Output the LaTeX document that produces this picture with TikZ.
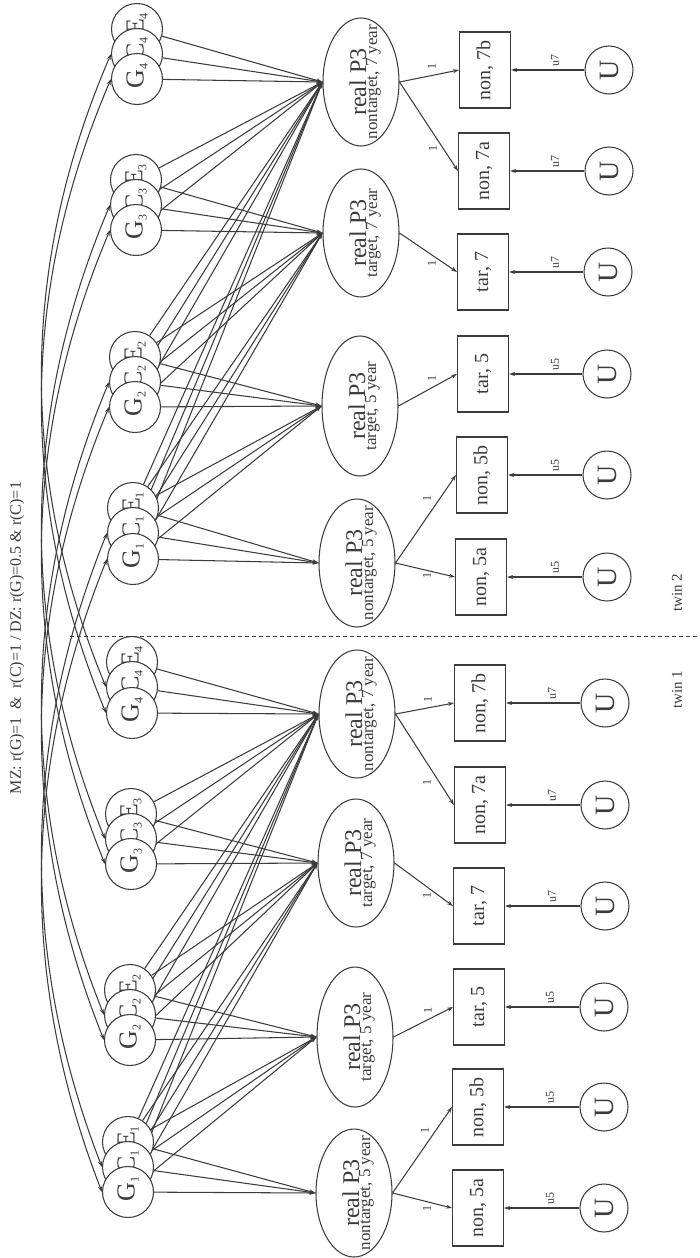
\documentclass[tikz,border=0pt]{standalone}
\usepackage{fontspec}
\setmainfont{Liberation Serif}
\usetikzlibrary{shapes.geometric, arrows.meta, calc}
\pgfdeclarelayer{back}
\pgfdeclarelayer{wires}
\pgfsetlayers{back,wires,main}
\definecolor{ink}{HTML}{3C3C3C}
\tikzset{
  wire/.style={draw=ink, line width=1.05pt},
  tipend/.style={-{Stealth[length=6pt,width=4pt]}},
  tipboth/.style={{Stealth[length=6pt,width=4pt]}-{Stealth[length=6pt,width=4pt]}},
  factor/.style={circle, draw=ink, line width=1.05pt, fill=white, minimum size=51pt,
    inner sep=0pt},
  facltr/.style={rotate=90, inner sep=0pt, text=ink, font=\fontsize{26}{26}\selectfont},
  measure/.style={ellipse, draw=ink, line width=1.05pt, fill=white, minimum width=128pt,
    minimum height=76pt, inner sep=0pt, rotate=90},
  longer/.style={minimum width=140pt},
  headtxt/.style={rotate=90, anchor=base, inner sep=0pt, text=ink, font=\fontsize{24}{24}\selectfont},
  subtxt/.style={rotate=90, anchor=base, inner sep=0pt, text=ink, font=\fontsize{17}{17}\selectfont},
  scorebox/.style={rectangle, draw=ink, line width=1.05pt, fill=white, minimum width=76pt,
    minimum height=51pt, inner sep=0pt, rotate=90, text=ink, font=\fontsize{20}{20}\selectfont},
  uniq/.style={circle, draw=ink, line width=1.05pt, fill=white, minimum size=48pt,
    inner sep=0pt, rotate=90, text=ink, font=\fontsize{28}{28}\selectfont},
  edgelab/.style={rotate=90, inner sep=0pt, text=ink, font=\fontsize{12}{12}\selectfont},
  sidelab/.style={rotate=90, inner sep=0pt, text=ink, font=\fontsize{15}{15}\selectfont},
}
% one latent factor: circle, then its letter with a lowered index,
% set a little towards the top of the circle
\newcommand{\latent}[6]{%
  \node[factor] (#1) at (#2,#3) {};
  \node[facltr] (#1t) at ($(#1)+(0,#6)$)
    {#4\raisebox{-4pt}{\fontsize{12}{12}\selectfont #5}};}
% one P3 measure: ellipse with two lines of text
\newcommand{\pthree}[5]{%
  \node[measure,#4] (#1) at (#2,#3) {};
  \node[headtxt] (#1h) at ($(#1)+(5,0)$) {real P3};
  \node[subtxt]  (#1s) at ($(#1)+(16,0)$) {#5};}
\begin{document}
\begin{tikzpicture}[x=1pt,y=-1pt]
\useasboundingbox (0,0) rectangle (699,1258);
\begin{pgfonlayer}{back}
  \fill[white] (0,0) rectangle (699,1258);
\end{pgfonlayer}

% heading
\node[rotate=90, text=ink, font=\fontsize{16}{16}\selectfont] (title) at (17,638)
  {MZ: r(G)=1\ \ \&\ \ r(C)=1 / DZ: r(G)=0.5 \& r(C)=1};

% ---------- twin 2 : latent factors (E behind C behind G) ----------
\latent{Eb4}{137}{29}{E}{4}{-5}
\latent{Cb4}{137}{54}{C}{4}{-5}
\latent{Gb4}{137}{79}{G}{4}{-3}
\latent{Eb3}{136}{180}{E}{3}{-5}
\latent{Cb3}{136}{205}{C}{3}{-5}
\latent{Gb3}{136}{230}{G}{3}{-3}
\latent{Eb2}{135}{357}{E}{2}{-5}
\latent{Cb2}{135}{382}{C}{2}{-5}
\latent{Gb2}{135}{407}{G}{2}{-3}
\latent{Eb1}{133}{508}{E}{1}{-5}
\latent{Cb1}{133}{533}{C}{1}{-5}
\latent{Gb1}{133}{559}{G}{1}{-3}

% ---------- twin 1 : latent factors ----------
\latent{Ea4}{132}{662}{E}{4}{-5}
\latent{Ca4}{132}{687}{C}{4}{-5}
\latent{Ga4}{132}{713}{G}{4}{-3}
\latent{Ea3}{131}{814}{E}{3}{-5}
\latent{Ca3}{131}{839}{C}{3}{-5}
\latent{Ga3}{131}{864}{G}{3}{-3}
\latent{Ea2}{130}{990}{E}{2}{-5}
\latent{Ca2}{130}{1015}{C}{2}{-5}
\latent{Ga2}{130}{1040}{G}{2}{-3}
\latent{Ea1}{128}{1142}{E}{1}{-5}
\latent{Ca1}{128}{1167}{C}{1}{-5}
\latent{Ga1}{128}{1192}{G}{1}{-3}

% ---------- P3 measures ----------
\pthree{Pb4}{361}{82}{}{nontarget, 7 year}
\pthree{Pb3}{361}{233}{}{target, 7 year}
\pthree{Pb2}{360}{406}{longer}{target, 5 year}
\pthree{Pb1}{357}{563}{}{nontarget, 5 year}
\pthree{Pa4}{357}{714}{}{nontarget, 7 year}
\pthree{Pa3}{356}{863}{}{target, 7 year}
\pthree{Pa2}{355}{1037}{longer}{target, 5 year}
\pthree{Pa1}{354}{1193}{}{nontarget, 5 year}

% ---------- observed scores ----------
\node[scorebox] (Mb7b) at (485,70)  {non, 7b};
\node[scorebox] (Mb7a) at (484,171) {non, 7a};
\node[scorebox] (Mbt7) at (483,272) {tar, 7};
\node[scorebox] (Mbt5) at (483,374) {tar, 5};
\node[scorebox] (Mb5b) at (482,475) {non, 5b};
\node[scorebox] (Mb5a) at (481,577) {non, 5a};
\node[scorebox] (Ma7b) at (480,703)  {non, 7b};
\node[scorebox] (Ma7a) at (480,805)  {non, 7a};
\node[scorebox] (Mat7) at (479,906)  {tar, 7};
\node[scorebox] (Mat5) at (479,1007) {tar, 5};
\node[scorebox] (Ma5b) at (478,1107) {non, 5b};
\node[scorebox] (Ma5a) at (478,1208) {non, 5a};

% ---------- unique parts ----------
\node[uniq] (Ub7b) at (609,70)  {U};
\node[uniq] (Ub7a) at (609,171) {U};
\node[uniq] (Ubt7) at (608,272) {U};
\node[uniq] (Ubt5) at (607,374) {U};
\node[uniq] (Ub5b) at (607,475) {U};
\node[uniq] (Ub5a) at (607,577) {U};
\node[uniq] (Ua7b) at (605,703)  {U};
\node[uniq] (Ua7a) at (605,805)  {U};
\node[uniq] (Uat7) at (605,906)  {U};
\node[uniq] (Uat5) at (604,1007) {U};
\node[uniq] (Ua5b) at (604,1107) {U};
\node[uniq] (Ua5a) at (604,1208) {U};

% ---------- path labels ----------
\node[edgelab] (lb7b) at (432,66)  {1};
\node[edgelab] (lb7a) at (433,148) {1};
\node[edgelab] (lbt7) at (432,263) {1};
\node[edgelab] (lbt5) at (432,378) {1};
\node[edgelab] (lb5b) at (427,498) {1};
\node[edgelab] (lb5a) at (427,575) {1};
\node[edgelab] (la7b) at (428,699)  {1};
\node[edgelab] (la7a) at (427,782)  {1};
\node[edgelab] (lat7) at (427,895)  {1};
\node[edgelab] (lat5) at (428,1010) {1};
\node[edgelab] (la5b) at (425,1130) {1};
\node[edgelab] (la5a) at (427,1208) {1};

\node[edgelab] (ub7b) at (555,60)  {u7};
\node[edgelab] (ub7a) at (555,161) {u7};
\node[edgelab] (ubt7) at (555,262) {u7};
\node[edgelab] (ubt5) at (555,364) {u5};
\node[edgelab] (ub5b) at (555,465) {u5};
\node[edgelab] (ub5a) at (555,567) {u5};
\node[edgelab] (ua7b) at (552,693)  {u7};
\node[edgelab] (ua7a) at (552,795)  {u7};
\node[edgelab] (uat7) at (552,896)  {u7};
\node[edgelab] (uat5) at (550,997)  {u5};
\node[edgelab] (ua5b) at (550,1097) {u5};
\node[edgelab] (ua5a) at (550,1198) {u5};

% twin separator and twin names
\coordinate (sepL) at (70,636);
\coordinate (sepR) at (699,636);
\draw[ink, line width=1pt, dash pattern=on 4pt off 3pt] (sepL) -- (sepR);
\node[sidelab] (tw2) at (677,593) {twin 2};
\node[sidelab] (tw1) at (677,690) {twin 1};

\begin{pgfonlayer}{wires}
  % Cholesky loadings: factor k loads on measures k..4
  \foreach \t in {a,b}{
    \foreach \k in {1,2,3,4}{
      \foreach \j in {\k,...,4}{
        \foreach \f in {G,C,E}{
          \draw[wire, tipend] (\f\t\k) -- (P\t\j.north);
        }
      }
    }
  }
  % measures to observed scores, unique parts to observed scores
  \foreach \t in {a,b}{
    \draw[wire, tipend] (P\t1.south) -- (M\t5a.north);
    \draw[wire, tipend] (P\t1.south) -- (M\t5b.north);
    \draw[wire, tipend] (P\t2.south) -- (M\t t5.north);
    \draw[wire, tipend] (P\t3.south) -- (M\t t7.north);
    \draw[wire, tipend] (P\t4.south) -- (M\t7a.north);
    \draw[wire, tipend] (P\t4.south) -- (M\t7b.north);
    \foreach \m in {5a,5b,t5,t7,7a,7b}{
      \draw[wire, tipend] (U\t\m.north) -- (M\t\m.south);
    }
  }
  % twin correlations of G and C
  \draw[wire, tipboth] (Ga4.west) .. controls (18.7,501.7) and (20.3,290.3) .. (Gb4.west);
  \draw[wire, tipboth] (Ca4.west) .. controls (18.7,475.7) and (20.3,264.3) .. (Cb4.west);
  \draw[wire, tipboth] (Ga3.west) .. controls (19.0,652.7) and (20.7,441.3) .. (Gb3.west);
  \draw[wire, tipboth] (Ca3.west) .. controls (19.0,627.7) and (20.7,416.3) .. (Cb3.west);
  \draw[wire, tipboth] (Ga2.west) .. controls (19.3,829.0) and (21.0,618.0) .. (Gb2.west);
  \draw[wire, tipboth] (Ca2.west) .. controls (19.3,804.0) and (21.0,593.0) .. (Cb2.west);
  \draw[wire, tipboth] (Ga1.west) .. controls (20.0,981.0) and (21.7,770.0) .. (Gb1.west);
  \draw[wire, tipboth] (Ca1.west) .. controls (20.0,955.7) and (21.7,744.3) .. (Cb1.west);
\end{pgfonlayer}
\end{tikzpicture}
\end{document}
